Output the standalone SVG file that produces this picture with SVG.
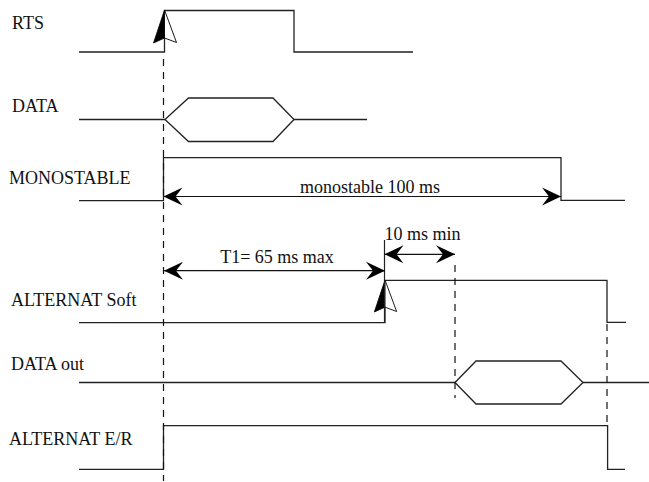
<svg xmlns="http://www.w3.org/2000/svg" width="649" height="482" viewBox="0 0 649 482">
<style>
.sig{fill:none;stroke:#222;stroke-width:1.3}
.dash{fill:none;stroke:#111;stroke-width:1.2;stroke-dasharray:7 6}
.dim{fill:none;stroke:#111;stroke-width:1.2;marker-start:url(#st);marker-end:url(#st)}
.ext{fill:none;stroke:#222;stroke-width:1.2}
text{font-family:"Liberation Serif","Times New Roman",serif;font-size:18px;fill:#111}
</style>
<defs>
<marker id="st" viewBox="-20 -10 21 20" refX="0" refY="0" markerWidth="21" markerHeight="20" markerUnits="userSpaceOnUse" orient="auto-start-reverse">
<path d="M0,0 L-19,-9 L-12,0 L-19,9 Z" fill="#000"/>
</marker>
<g id="half">
<path d="M0,0 L-11,33 L0,28 Z" fill="#000" stroke="#000" stroke-width="0.8"/>
<path d="M0,0 L12,32.5 L0,28 Z" fill="#fff" stroke="#000" stroke-width="0.9"/>
</g>
</defs>

<g id="rts">
<text x="12" y="29">RTS</text>
<polyline class="sig" points="79,52 164.5,52 164.5,10.5 294,10.5 294,52 413,52"/>
<use href="#half" x="164.5" y="10"/>
</g>

<g id="data">
<text x="12" y="112">DATA</text>
<polyline class="sig" points="79,119.5 165,119.5"/>
<polygon class="sig" points="165,119.5 188.5,98 273,98 294,119.5 273,141.5 188.5,141.5"/>
<polyline class="sig" points="294,119.5 367,119.5"/>
</g>

<g id="monostable">
<text x="9" y="184">MONOSTABLE</text>
<polyline class="sig" points="79,200.7 163.5,200.7 163.5,157.7 561,157.7 561,200.3 625,200.3"/>
</g>

<g id="alternat-soft">
<text x="11" y="306">ALTERNAT Soft</text>
<polyline class="sig" points="79,322.7 385,322.7 385,280.3 607,280.3 607,322.3 626,322.3"/>
<use href="#half" x="385" y="280" transform="translate(385 280) scale(0.97) translate(-385 -280)"/>
</g>

<g id="data-out">
<text x="11" y="370">DATA out</text>
<polyline class="sig" points="79,382.5 455,382.5"/>
<polygon class="sig" points="455,382.5 476,361 561,361 583,382.5 561,404 476,404"/>
<polyline class="sig" points="583,382.5 649,382.5"/>
</g>

<g id="alternat-er">
<text x="9" y="445">ALTERNAT E/R</text>
<polyline class="sig" points="79,469.3 163.5,469.3 163.5,425.7 607.6,425.7 607.6,469.3 625,469.3"/>
</g>

<g id="connectors">
<line class="dash" x1="163.5" y1="59" x2="163.5" y2="481"/>
<line class="dash" x1="455" y1="265" x2="455" y2="398"/>
<line class="dash" x1="607" y1="324" x2="607" y2="424"/>
<line class="ext" x1="384.5" y1="240" x2="384.5" y2="323"/>
<line class="dim" x1="163.5" y1="196.5" x2="561" y2="196.5"/>
<text x="370" y="192.5" text-anchor="middle">monostable 100 ms</text>
<line class="dim" x1="164" y1="270.7" x2="385" y2="270.7"/>
<text x="277" y="262.7" text-anchor="middle">T1= 65 ms max</text>
<line class="dim" x1="384.5" y1="254.3" x2="455" y2="254.3"/>
<text x="422.5" y="240" text-anchor="middle">10 ms min</text>
</g>
</svg>
